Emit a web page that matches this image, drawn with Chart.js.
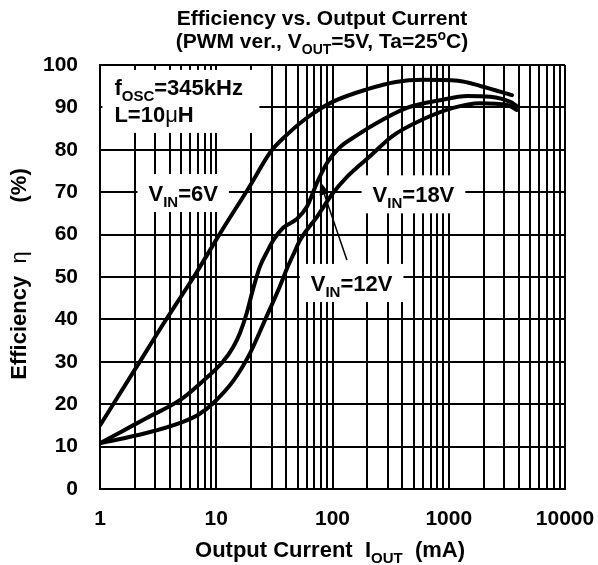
<!DOCTYPE html>
<html>
<head>
<meta charset="utf-8">
<script src="https://cdn.jsdelivr.net/npm/chart.js@4.4.1/dist/chart.umd.min.js"></script>
<style>
  html, body { margin: 0; padding: 0; background: #fff; }
</style>
</head>
<body>
<canvas id="effChart" width="598" height="565"></canvas>
<script>
// output current (mA) / efficiency (%) for each input voltage
const currentV6 = [1, 2, 3.75, 6.6, 10.8, 19, 29.5, 40, 60, 100, 200, 350, 600, 1200, 1900, 3500];
const effV6 = [15, 28.2, 40.2, 50.6, 60.3, 71, 79.6, 83.4, 87.5, 91.3, 94.3, 96, 96.5, 96.3, 95, 92.9];

const currentV12 = [1, 1.5, 2.5, 4.9, 7.7, 11.4, 14, 16, 18.3, 20.3, 23.7, 27.9, 31, 37.6, 49, 60, 73.5, 89.6, 116, 162, 210, 437, 840, 1440, 2270, 3380, 3850];
const effV12 = [10.8, 13.4, 16.7, 21, 25.5, 30, 33.5, 36.8, 41.5, 46.2, 52.4, 56.4, 58.7, 61.6, 63.6, 66.5, 72.2, 76.9, 80.6, 83.4, 85.4, 89.9, 91.7, 92.7, 92.5, 91.3, 90.3];

const currentV18 = [1, 2.5, 4.9, 7, 9.45, 14, 19.5, 27, 35, 40.6, 47.3, 52.6, 73.5, 101, 132, 172, 210, 330, 600, 1090, 1850, 3170, 3850];
const effV18 = [10.8, 13.2, 15.6, 17.5, 20.3, 25.5, 32, 40.6, 47.6, 52, 56, 58.7, 64.2, 69.8, 73.5, 76.4, 78.5, 83.3, 87.2, 89.9, 91, 90.6, 89.4];

const xTickLabels = ['1', '10', '100', '1000', '10000'];
const yTickLabels = ['0', '10', '20', '30', '40', '50', '60', '70', '80', '90', '100'];

const FONT = "'Liberation Sans', Arial, Helvetica, sans-serif";
const SIZE = 21;
const NOTE_SIZE = 22;

function toPoints(xs, ys) {
  return xs.map((x, i) => ({ x: x, y: ys[i] }));
}

// text with subscripts / superscripts, parts = [[text, kind], ...]
function partFont(kind, size) {
  if (kind === 'sub' || kind === 'sup') return 'bold ' + Math.round(size * 0.68) + 'px ' + FONT;
  if (kind === 'plain') return size + 'px ' + FONT;
  return 'bold ' + size + 'px ' + FONT;
}
function richWidth(ctx, parts, size) {
  let w = 0;
  parts.forEach(p => {
    ctx.font = partFont(p[1], size);
    w += ctx.measureText(p[0]).width;
  });
  return w;
}
function drawRich(ctx, parts, x, y, size, align) {
  const w = richWidth(ctx, parts, size);
  let cx = align === 'center' ? x - w / 2 : x;
  ctx.textAlign = 'left';
  ctx.textBaseline = 'alphabetic';
  ctx.fillStyle = '#000';
  parts.forEach(p => {
    ctx.font = partFont(p[1], size);
    let dy = 0;
    if (p[1] === 'sub') dy = size * 0.28;
    if (p[1] === 'sup') dy = -size * 0.38;
    ctx.fillText(p[0], cx, y + dy);
    cx += ctx.measureText(p[0]).width;
  });
  return w;
}

// labels on white boxes, placed in data units (mA, %)
const vinNotes = [
  { parts: [['V'], ['IN', 'sub'], ['=6V']], x: 5.2, y: 69.8 },
  { parts: [['V'], ['IN', 'sub'], ['=18V']], x: 497, y: 69.5 },
  { parts: [['V'], ['IN', 'sub'], ['=12V']], x: 146, y: 48.6 }
];

const textPlugin = {
  id: 'textPlugin',
  beforeDatasetsDraw(chart) {
    const ctx = chart.ctx, xs = chart.scales.x, ys = chart.scales.y;
    ctx.save();
    // fosc / L box in the top-left corner
    const ox = xs.getPixelForValue(1.33), oy = ys.getPixelForValue(94.6);
    ctx.fillStyle = '#fff';
    ctx.fillRect(ox - 12, oy - 18, 157, 63);
    drawRich(ctx, [['f'], ['OSC', 'sub'], ['=345kHz']], ox, oy + 7, NOTE_SIZE, 'left');
    drawRich(ctx, [['L=10'], ['μ', 'plain'], ['H']], ox, oy + 34, NOTE_SIZE, 'left');

    vinNotes.forEach(n => {
      const px = xs.getPixelForValue(n.x), py = ys.getPixelForValue(n.y);
      const w = richWidth(ctx, n.parts, NOTE_SIZE);
      ctx.fillStyle = '#fff';
      ctx.fillRect(px - w / 2 - 11, py - 19, w + 22, 38);
      drawRich(ctx, n.parts, px, py + 8, NOTE_SIZE, 'center');
    });
    ctx.restore();
  },
  afterDatasetsDraw(chart) {
    const ctx = chart.ctx, xs = chart.scales.x, ys = chart.scales.y;
    // pointer from the 12V label to its curve
    const tx = xs.getPixelForValue(133), ty = ys.getPixelForValue(54);
    const hx = xs.getPixelForValue(78), hy = ys.getPixelForValue(72.6);
    const ang = Math.atan2(hy - ty, hx - tx);
    ctx.save();
    ctx.strokeStyle = '#000';
    ctx.fillStyle = '#000';
    ctx.lineWidth = 1.5;
    ctx.beginPath();
    ctx.moveTo(tx, ty);
    ctx.lineTo(hx - 10 * Math.cos(ang), hy - 10 * Math.sin(ang));
    ctx.stroke();
    ctx.beginPath();
    ctx.moveTo(hx, hy);
    ctx.lineTo(hx - 14 * Math.cos(ang) + 5 * Math.sin(ang), hy - 14 * Math.sin(ang) - 5 * Math.cos(ang));
    ctx.lineTo(hx - 14 * Math.cos(ang) - 5 * Math.sin(ang), hy - 14 * Math.sin(ang) + 5 * Math.cos(ang));
    ctx.closePath();
    ctx.fill();
    ctx.restore();
  },
  afterDraw(chart) {
    const ctx = chart.ctx;
    ctx.save();
    drawRich(ctx, [['Efficiency vs. Output Current']], 322, 25, SIZE, 'center');
    drawRich(ctx, [['(PWM ver., V'], ['OUT', 'sub'], ['=5V, Ta=25'], ['o', 'sup'], ['C)']], 322, 48, SIZE, 'center');
    drawRich(ctx, [['Output Current  I'], ['OUT', 'sub'], ['  (mA)']], 330, 557, NOTE_SIZE, 'center');
    ctx.translate(26, 274);
    ctx.rotate(-Math.PI / 2);
    drawRich(ctx, [['Efficiency  '], ['η', 'plain'], ['        (%)']], 0, 0, NOTE_SIZE, 'center');
    ctx.restore();
  }
};

const gridStyle = { color: '#000', lineWidth: 2, drawTicks: false };
const borderStyle = { display: true, color: '#000', width: 2 };
const tickFont = { family: FONT, size: SIZE, weight: 'bold' };

new Chart(document.getElementById('effChart'), {
  type: 'line',
  data: {
    datasets: [
      { label: 'VIN=6V', data: toPoints(currentV6, effV6) },
      { label: 'VIN=12V', data: toPoints(currentV12, effV12) },
      { label: 'VIN=18V', data: toPoints(currentV18, effV18) }
    ]
  },
  options: {
    responsive: false,
    animation: false,
    devicePixelRatio: 1,
    layout: { padding: { left: 0, right: 33, top: 65, bottom: 0 } },
    elements: {
      point: { radius: 0 },
      line: { borderColor: '#000', borderWidth: 4, cubicInterpolationMode: 'monotone', fill: false, borderCapStyle: 'round' }
    },
    plugins: { legend: { display: false }, title: { display: false }, tooltip: { enabled: false } },
    scales: {
      x: {
        type: 'logarithmic',
        min: 1,
        max: 10000,
        afterBuildTicks(scale) {
          const ticks = [];
          for (let d = 1; d < 10000; d *= 10) {
            for (let m = 1; m < 10; m++) ticks.push({ value: m * d });
          }
          ticks.push({ value: 10000 });
          scale.ticks = ticks;
        },
        afterFit(scale) {
          scale.height = 76;
          scale.paddingLeft = 0;
          scale.paddingRight = 0;
        },
        grid: gridStyle,
        border: borderStyle,
        ticks: {
          autoSkip: false,
          maxRotation: 0,
          padding: 18,
          color: '#000',
          font: tickFont,
          callback(v) {
            const s = String(v);
            return xTickLabels.includes(s) ? s : '';
          }
        }
      },
      y: {
        min: 0,
        max: 100,
        afterFit(scale) {
          scale.width = 100;
          scale.paddingTop = 0;
          scale.paddingBottom = 0;
        },
        grid: gridStyle,
        border: borderStyle,
        ticks: {
          stepSize: 10,
          padding: 22,
          color: '#000',
          font: tickFont,
          callback(v) { return yTickLabels[Math.round(v / 10)]; }
        }
      }
    }
  },
  plugins: [textPlugin]
});
</script>
</body>
</html>
